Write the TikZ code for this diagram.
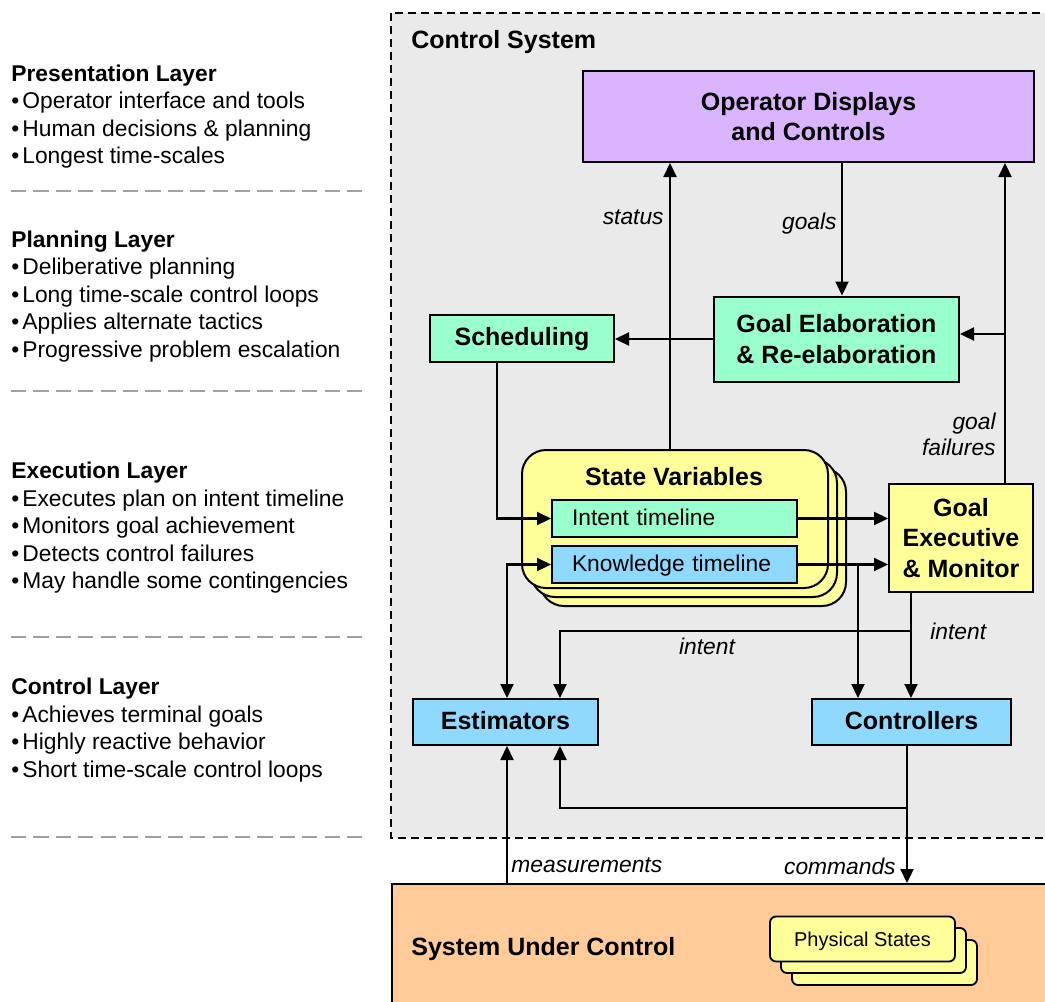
\documentclass[tikz,border=0pt]{standalone}
\usepackage{fontspec}
\setmainfont{Liberation Sans}
\usetikzlibrary{arrows.meta}
\definecolor{cgray}{HTML}{EAEAEA}
\definecolor{clav}{HTML}{DAB4FF}
\definecolor{cmint}{HTML}{99FFCC}
\definecolor{cyel}{HTML}{FFFF99}
\definecolor{cblue}{HTML}{8FD9FF}
\definecolor{corange}{HTML}{FFCC99}
\definecolor{cdash}{HTML}{A0A0A0}
\newcommand\csTitle{\fontsize{12.5}{15.25}\selectfont\bfseries}
\newcommand\csHead{\fontsize{11.4}{13.75}\selectfont\bfseries}
\newcommand\csBody{\fontsize{11.4}{13.75}\selectfont}
\newcommand\csItal{\fontsize{11.4}{13}\selectfont\itshape}
\newcommand\csSmall{\fontsize{10}{12}\selectfont}
\begin{document}
\begin{tikzpicture}[x=0.5pt,y=-0.5pt,
  box/.style={draw, line width=1pt, inner sep=0pt, align=center, font=\csTitle},
  oneline/.style={text height=0.72em, text depth=0pt},
  svbox/.style={draw, line width=1pt, fill=cyel, rounded corners=12pt, minimum width=153pt, minimum height=69pt, inner sep=0pt},
  tlbox/.style={draw, line width=1pt, inner sep=0pt, inner xsep=10pt, text width=102.5pt, align=left, minimum width=122.5pt, minimum height=18.5pt, font=\csBody, text height=0.72em, text depth=0pt},
  phys/.style={draw, line width=0.9pt, fill=cyel, rounded corners=3pt, minimum width=92.5pt, minimum height=22.5pt, inner sep=0pt, font=\csSmall, text height=0.72em, text depth=0pt},
  arr/.style={line width=1.1pt, -{Triangle[length=7pt,width=6.5pt]}},
  arrboth/.style={line width=1.1pt, {Triangle[length=7pt,width=6.5pt]}-{Triangle[length=7pt,width=6.5pt]}},
  lbl/.style={font=\csItal, inner sep=0pt},
  lhead/.style={anchor=base west, font=\csHead, inner sep=0pt},
  lbody/.style={anchor=base west, font=\csBody, inner sep=0pt},
  sep/.style={draw=cdash, line width=1pt, dash pattern=on 7.6pt off 3.6pt}
]
\useasboundingbox (0,0) rectangle (1045,1002);
\clip (0,0) rectangle (1045,1002);

% ---------- left column ----------
\node[lhead] (h1) at (11,81) {Presentation Layer};
\node[lbody] (p1) at (11,108.5) {•\hspace{1.5pt}Operator interface and tools};
\node[lbody] (p2) at (11,136) {•\hspace{1.5pt}Human decisions \& planning};
\node[lbody] (p3) at (11,163.5) {•\hspace{1.5pt}Longest time-scales};
\coordinate (d1a) at (11,191); \coordinate (d1b) at (362,191);
\draw[sep] (d1a) -- (d1b);

\node[lhead] (h2) at (11,247) {Planning Layer};
\node[lbody] (q1) at (11,274.5) {•\hspace{1.5pt}Deliberative planning};
\node[lbody] (q2) at (11,302) {•\hspace{1.5pt}Long time-scale control loops};
\node[lbody] (q3) at (11,329.5) {•\hspace{1.5pt}Applies alternate tactics};
\node[lbody] (q4) at (11,357) {•\hspace{1.5pt}Progressive problem escalation};
\coordinate (d2a) at (11,391); \coordinate (d2b) at (362,391);
\draw[sep] (d2a) -- (d2b);

\node[lhead] (h3) at (11,478) {Execution Layer};
\node[lbody] (r1) at (11,506) {•\hspace{1.5pt}Executes plan on intent timeline};
\node[lbody] (r2) at (11,533.5) {•\hspace{1.5pt}Monitors goal achievement};
\node[lbody] (r3) at (11,561) {•\hspace{1.5pt}Detects control failures};
\node[lbody] (r4) at (11,588.5) {•\hspace{1.5pt}May handle some contingencies};
\coordinate (d3a) at (11,637); \coordinate (d3b) at (362,637);
\draw[sep] (d3a) -- (d3b);

\node[lhead] (h4) at (11,694) {Control Layer};
\node[lbody] (s1) at (11,722) {•\hspace{1.5pt}Achieves terminal goals};
\node[lbody] (s2) at (11,749.5) {•\hspace{1.5pt}Highly reactive behavior};
\node[lbody] (s3) at (11,777) {•\hspace{1.5pt}Short time-scale control loops};
\coordinate (d4a) at (11,837); \coordinate (d4b) at (362,837);
\draw[sep] (d4a) -- (d4b);

% ---------- containers ----------
\draw[fill=cgray, line width=0.8pt, dash pattern=on 4pt off 2.5pt] (391,13) rectangle (1080,838);
\node[anchor=base west, font=\csTitle, inner sep=0pt] (cstitle) at (411,48) {Control System};

\node[box, fill=corange, minimum width=345pt, minimum height=75pt, anchor=north west] (suc) at (391,883) {};
\node[anchor=base west, font=\csTitle, inner sep=0pt] (suctitle) at (411,955) {System Under Control};

\node[phys] (ps3) at (884.5,962.5) {};
\node[phys] (ps2) at (873.5,950.5) {};
\node[phys] (ps) at (862.5,939) {Physical States};

% ---------- boxes ----------
\node[box, fill=clav, minimum width=225.5pt, minimum height=45.5pt] (ops) at (808.5,116.5) {Operator Displays\\and Controls};
\node[box, fill=cmint, minimum width=92pt, minimum height=23.5pt, oneline] (sched) at (522,338.5) {Scheduling};
\node[box, fill=cmint, minimum width=122.5pt, minimum height=42.5pt] (elab) at (836.5,339) {Goal Elaboration\\\& Re-elaboration};

\node[svbox] (sv3) at (693,537) {};
\node[svbox] (sv2) at (684,528) {};
\node[svbox] (sv) at (675,519) {};
\node[font=\csTitle, oneline, inner sep=0pt] (svtitle) at (674,478) {State Variables};
\node[tlbox, fill=cmint] (itl) at (674.5,518.5) {Intent timeline};
\node[tlbox, fill=cblue] (ktl) at (674.5,564.5) {Knowledge timeline};

\node[box, fill=cyel, minimum width=72pt, minimum height=54pt] (exec) at (961,538) {Goal\\Executive\\\& Monitor};
\node[box, fill=cblue, minimum width=92.5pt, minimum height=23pt, oneline] (est) at (505.5,722) {Estimators};
\node[box, fill=cblue, minimum width=99.5pt, minimum height=23pt, oneline] (ctrl) at (911.5,722) {Controllers};

% ---------- helper coordinates ----------
\coordinate (xs) at (670,0);
\coordinate (xg) at (842,0);
\coordinate (xf) at (1005,0);
\coordinate (yf) at (0,334);
\coordinate (xsch) at (497,0);
\coordinate (xk) at (507,0);
\coordinate (xkb) at (858,0);
\coordinate (xi) at (911,0);
\coordinate (yi) at (0,631);
\coordinate (xe2) at (560,0);
\coordinate (xc) at (907,0);
\coordinate (yc) at (0,808);

% ---------- connectors ----------
\draw[arr] (sv.north -| xs) -- (ops.south -| xs);
\draw[arr] (ops.south -| xg) -- (elab.north -| xg);
\draw[arr] (elab.west) -- (sched.east |- elab.west);
\draw[arr] (exec.north -| xf) -- (ops.south -| xf);
\draw[arr] (xf |- yf) -- (elab.east |- yf);
\draw[arr] (sched.south -| xsch) |- (itl.west);
\draw[arr] (itl.east) -- (exec.west |- itl.east);
\draw[arr] (ktl.east) -- (exec.west |- ktl.east);
\draw[arr] (ktl.east -| xkb) -- (ctrl.north -| xkb);
\draw[arrboth] (est.north -| xk) |- (ktl.west);
\draw[arr] (exec.south -| xi) -- (ctrl.north -| xi);
\draw[arr] (xi |- yi) -| (est.north -| xe2);
\draw[arr] (ctrl.south -| xc) -- (suc.north -| xc);
\draw[arr] (xc |- yc) -| (est.south -| xe2);
\draw[arr] (suc.north -| xk) -- (est.south -| xk);

% ---------- labels ----------
\node[lbl, anchor=east] (lstatus) at (664,217) {status};
\node[lbl, anchor=east] (lgoals) at (837,224) {goals};
\node[lbl, anchor=east, align=right] (lfail) at (996,434) {goal\\failures};
\node[lbl, anchor=west] (lint1) at (930,631) {intent};
\node[lbl] (lint2) at (707,646) {intent};
\node[lbl, anchor=west] (lmeas) at (511,865) {measurements};
\node[lbl, anchor=east] (lcmd) at (896,866) {commands};
\end{tikzpicture}
\end{document}
